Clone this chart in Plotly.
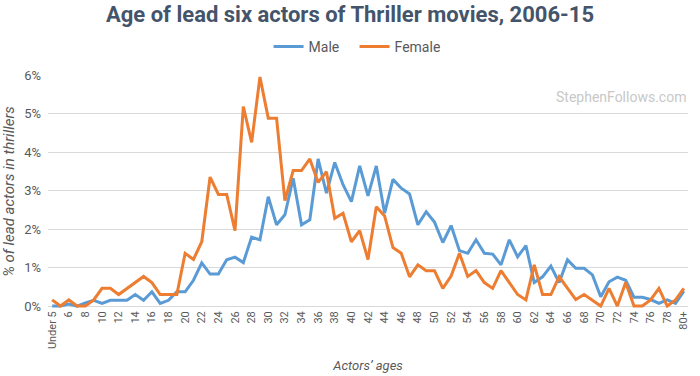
import plotly.graph_objects as go

categories = ["Under 5"] + [str(a) for a in range(5, 80)] + ["80+"]

male = [0.0, 0.0, 0.05, 0.0, 0.08, 0.15, 0.07, 0.15, 0.15, 0.15,
        0.3, 0.15, 0.37, 0.07, 0.15, 0.37, 0.37, 0.67, 1.12, 0.83,
        0.83, 1.2, 1.27, 1.13, 1.79, 1.72, 2.84, 2.11, 2.37, 3.32,
        2.11, 2.24, 3.82, 2.93, 3.73, 3.15, 2.71, 3.64, 2.86, 3.64,
        2.41, 3.29, 3.06, 2.91, 2.11, 2.45, 2.18, 1.65, 2.09, 1.44,
        1.37, 1.72, 1.37, 1.35, 1.07, 1.72, 1.28, 1.57, 0.61, 0.76,
        1.04, 0.61, 1.2, 0.98, 0.98, 0.81, 0.24, 0.63, 0.75, 0.67,
        0.23, 0.23, 0.17, 0.07, 0.16, 0.07, 0.39]

female = [0.16, 0.0, 0.16, 0.0, 0.0, 0.16, 0.46, 0.46, 0.3, 0.46,
          0.61, 0.77, 0.61, 0.3, 0.3, 0.3, 1.37, 1.21, 1.67, 3.35,
          2.9, 2.9, 1.96, 5.18, 4.25, 5.95, 4.88, 4.88, 2.74, 3.52,
          3.52, 3.82, 3.21, 3.49, 2.28, 2.41, 1.67, 1.96, 1.21, 2.58,
          2.34, 1.52, 1.37, 0.76, 1.07, 0.92, 0.92, 0.46, 0.78, 1.37,
          0.77, 0.92, 0.61, 0.46, 0.92, 0.61, 0.3, 0.16, 1.07, 0.3,
          0.3, 0.76, 0.46, 0.17, 0.3, 0.16, 0.0, 0.46, 0.0, 0.61,
          0.0, 0.0, 0.16, 0.46, 0.0, 0.16, 0.46]

tick_vals = categories[::2]
y_ticks = [0, 1, 2, 3, 4, 5, 6]

FONT = "Roboto"
GRAY = "#595959"

fig = go.Figure()
fig.add_trace(go.Scatter(x=categories, y=male, mode="lines", name="Male",
                         line=dict(color="#5b9bd5", width=3)))
fig.add_trace(go.Scatter(x=categories, y=female, mode="lines", name="Female",
                         line=dict(color="#ed7d31", width=3)))

fig.update_layout(
    width=700, height=376,
    margin=dict(l=48, r=12, t=75, b=68, autoexpand=False),
    paper_bgcolor="white", plot_bgcolor="white",
    font=dict(family=FONT, color=GRAY, size=12),
    title=dict(text="<b>Age of lead six actors of Thriller movies, 2006-15</b>",
               x=0.5, xanchor="center", yref="container", y=0.962, yanchor="middle",
               automargin=False,
               font=dict(family=FONT, size=22, color="#44546a")),
    legend=dict(orientation="h", x=0.479, xanchor="center", yref="container", y=0.875,
                yanchor="middle", font=dict(size=14, color=GRAY), itemwidth=30,
                entrywidth=41, entrywidthmode="pixels",
                traceorder="normal"),
    showlegend=True,
)

fig.update_xaxes(
    type="category", categoryorder="array", categoryarray=categories,
    range=[-0.5, 76.5], automargin=False,
    tickmode="array", tickvals=tick_vals, ticktext=tick_vals,
    tickangle=-90, tickfont=dict(size=11, color=GRAY),
    showgrid=False, zeroline=False, showline=False, ticks="",
    title=dict(text="<i>Actors’ ages</i>", font=dict(size=13, color=GRAY), standoff=12),
)
fig.update_yaxes(
    range=[-0.05, 6.0], automargin=False,
    tickmode="array", tickvals=y_ticks, ticktext=[f"{v}%" for v in y_ticks],
    tickfont=dict(size=13, color=GRAY),
    showgrid=True, gridcolor="#d9d9d9", gridwidth=1,
    zeroline=False, showline=False, ticks="", ticklabelstandoff=6,
    title=dict(text="<i>% of lead actors in thrillers</i>", font=dict(size=15, color=GRAY), standoff=8),
)

fig.add_annotation(text="StephenFollows.com", xref="paper", yref="paper",
                   x=1.0, y=0.905, xanchor="right", yanchor="middle", showarrow=False,
                   font=dict(family=FONT, size=14, color="#c8c8c8"))

fig.write_html("out.html", config={"displayModeBar": False},
               post_script="document.body.style.margin='0';")
